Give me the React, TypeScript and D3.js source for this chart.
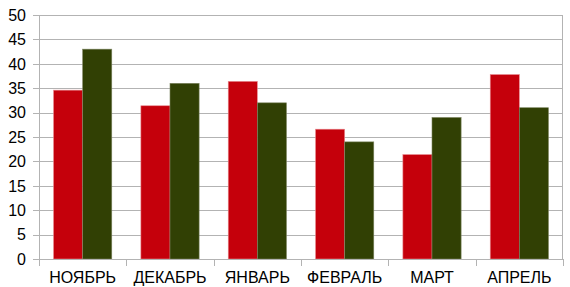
import React from "react";
import * as d3 from "d3";

const categories = ["НОЯБРЬ", "ДЕКАБРЬ", "ЯНВАРЬ", "ФЕВРАЛЬ", "МАРТ", "АПРЕЛЬ"];
const seriesRed = [34.6, 31.4, 36.4, 26.6, 21.4, 37.8];
const seriesGreen = [43, 36, 32, 24, 29, 31];
const yTicks = [0, 5, 10, 15, 20, 25, 30, 35, 40, 45, 50];

const W = 570;
const H = 287;
const left = 39;
const right = 563;
const top = 15;
const bottom = 259;
const font = "'Liberation Sans', Arial, sans-serif";
const gridColor = "#b3b3b3";

export default function App() {
  const x = d3.scaleBand<string>().domain(categories).range([left, right]).paddingInner(0).paddingOuter(0);
  const inner = d3
    .scaleBand<string>()
    .domain(["red", "green"])
    .range([0, x.bandwidth()])
    .paddingOuter(0.5)
    .paddingInner(0);
  const y = d3.scaleLinear().domain([0, 50]).range([bottom, top]);

  const series = [
    { key: "red", values: seriesRed, fill: "#c5000b", stroke: "#e88a90" },
    { key: "green", values: seriesGreen, fill: "#314004", stroke: "#7c8460" },
  ];

  const boundaries = categories.map((c) => x(c)!).concat([right]);

  return (
    <svg
      width={W}
      height={H}
      style={{ position: "absolute", left: 0, top: 0, background: "#fff" }}
      fontFamily={font}
    >
      {yTicks.map((t) => (
        <g key={t}>
          <line x1={left} x2={right} y1={Math.round(y(t)) + 0.5} y2={Math.round(y(t)) + 0.5} stroke={gridColor} strokeWidth={1} />
          <line x1={33} x2={left} y1={Math.round(y(t)) + 0.5} y2={Math.round(y(t)) + 0.5} stroke={gridColor} strokeWidth={1} />
          <text x={26} y={y(t)} dy="0.36em" textAnchor="end" fontSize={16} fill="#000">
            {t}
          </text>
        </g>
      ))}
      <line x1={left + 0.5} x2={left + 0.5} y1={top} y2={bottom} stroke={gridColor} strokeWidth={1} />
      <line x1={right - 0.5} x2={right - 0.5} y1={top} y2={bottom} stroke={gridColor} strokeWidth={1} />
      {boundaries.map((bx, i) => (
        <line key={i} x1={Math.round(bx) + 0.5} x2={Math.round(bx) + 0.5} y1={bottom} y2={bottom + 7} stroke={gridColor} strokeWidth={1} />
      ))}
      {series.map((s) =>
        categories.map((c, i) => {
          const bx = x(c)! + inner(s.key)!;
          const by = y(s.values[i]);
          return (
            <rect
              key={s.key + c}
              x={bx}
              y={by}
              width={inner.bandwidth()}
              height={bottom - by}
              fill={s.fill}
              stroke={s.stroke}
              strokeWidth={0.6}
            />
          );
        })
      )}
      <line x1={left} x2={right} y1={bottom + 0.5} y2={bottom + 0.5} stroke={gridColor} strokeWidth={1} />
      {categories.map((c) => (
        <text key={c} x={x(c)! + x.bandwidth() / 2} y={283} textAnchor="middle" fontSize={16} fill="#000">
          {c}
        </text>
      ))}
    </svg>
  );
}
